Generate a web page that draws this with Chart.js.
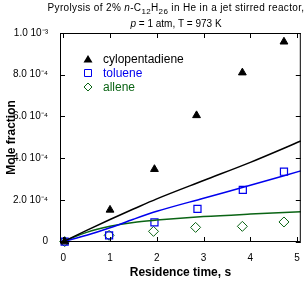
<!DOCTYPE html>
<html>
<head>
<meta charset="utf-8">
<script src="https://cdn.jsdelivr.net/npm/chart.js@4"></script>
<style>
  html, body { margin: 0; padding: 0; background: #fff; }
  #wrap { width: 307px; height: 284px; position: relative; }
</style>
</head>
<body>
<div id="wrap"><canvas id="myChart"></canvas></div>
<script>
'use strict';

// measured points (residence time, s)
const cpdTime = [0.03, 1.0, 1.95, 2.85, 3.83, 4.72];
const cpdFrac = [0, 1.52e-4, 3.47e-4, 6.05e-4, 8.1e-4, 9.58e-4];
const tolTime = [0.03, 0.98, 1.95, 2.87, 3.84, 4.72];
const tolFrac = [0, 0.3e-4, 0.92e-4, 1.57e-4, 2.48e-4, 3.35e-4];
const allTime = [0.03, 0.98, 1.93, 2.83, 3.83, 4.72];
const allFrac = [0, 0.3e-4, 0.49e-4, 0.68e-4, 0.73e-4, 0.94e-4];

// model curves
const modelTime = [0, 0.5, 1, 1.5, 2, 3, 4, 5.08];
const cpdModel = [0, 0.54e-4, 1.06e-4, 1.56e-4, 2.05e-4, 2.93e-4, 3.8e-4, 4.82e-4];
const tolModel = [0, 0.3e-4, 0.66e-4, 1.07e-4, 1.45e-4, 2.08e-4, 2.7e-4, 3.39e-4];
const allModel = [0, 0.44e-4, 0.73e-4, 0.92e-4, 1.03e-4, 1.2e-4, 1.32e-4, 1.43e-4];

const xTicks = [0, 1, 2, 3, 4, 5];
const yTicks = [0, 2e-4, 4e-4, 6e-4, 8e-4, 1e-3];
const yTickLabels = ['0', '2.0 10\u207B\u2074', '4.0 10\u207B\u2074', '6.0 10\u207B\u2074', '8.0 10\u207B\u2074', '1.0 10\u207B\u00B3'];

const BLACK = '#000000', BLUE = '#0000ee', GREEN = '#0a6414';
const FONT = '"Liberation Sans", Arial, sans-serif';

function pts(xs, ys) { return xs.map((x, i) => ({ x: x, y: ys[i] })); }

const frame = {
  id: 'frame',
  afterDraw(chart) {
    const c = chart.ctx, a = chart.chartArea;
    const xs = chart.scales.x, ys = chart.scales.y;
    c.save();
    c.strokeStyle = '#000';
    c.lineWidth = 1;
    c.strokeRect(a.left + 0.5, a.top + 0.5, a.right - a.left - 1, a.bottom - a.top - 1);
    c.beginPath();
    xTicks.forEach(v => {
      const p = Math.round(xs.getPixelForValue(v)) + 0.5;
      c.moveTo(p, a.bottom); c.lineTo(p, a.bottom - 5);
      c.moveTo(p, a.top); c.lineTo(p, a.top + 5);
    });
    yTicks.forEach(v => {
      const p = Math.round(ys.getPixelForValue(v)) + 0.5;
      c.moveTo(a.left, p); c.lineTo(a.left + 5, p);
      c.moveTo(a.right, p); c.lineTo(a.right - 5, p);
    });
    c.stroke();

    // legend
    const rows = [
      { t: 'cylopentadiene', col: BLACK, s: 'tri' },
      { t: 'toluene', col: BLUE, s: 'sq' },
      { t: 'allene', col: GREEN, s: 'dia' }
    ];
    c.font = '12px ' + FONT;
    c.textBaseline = 'middle';
    rows.forEach((r, i) => {
      const y = 59 + i * 14, x = 88;
      c.strokeStyle = r.col; c.fillStyle = r.col; c.lineWidth = 1;
      c.beginPath();
      if (r.s === 'tri') {
        c.moveTo(x, y - 4); c.lineTo(x + 4.5, y + 3.5); c.lineTo(x - 4.5, y + 3.5); c.closePath(); c.fill();
      } else if (r.s === 'sq') {
        c.rect(x - 3.5, y - 3.5, 7, 7); c.stroke();
      } else {
        c.moveTo(x, y - 4); c.lineTo(x + 4, y); c.lineTo(x, y + 4); c.lineTo(x - 4, y); c.closePath(); c.stroke();
      }
      c.fillText(r.t, 103, y + 1);
    });

    // title
    c.fillStyle = '#000';
    c.textBaseline = 'middle';
    const parts1 = [
      ['Pyrolysis of 2% ', 10, 0, ''], ['n', 10, 0, 'italic '], ['-C', 10, 0, ''], ['12', 8, 3, ''],
      ['H', 10, 0, ''], ['26', 8, 3, ''], [' in He in a jet stirred reactor,', 10, 0, '']
    ];
    const parts2 = [['p', 10, 0, 'italic '], [' = 1 atm, T = 973 K', 10, 0, '']];
    function line(parts, cx, y, sp) {
      c.letterSpacing = sp;
      let w = 0;
      parts.forEach(p => { c.font = p[3] + p[1] + 'px ' + FONT; w += c.measureText(p[0]).width; });
      let x = cx - w / 2;
      c.textAlign = 'left';
      parts.forEach(p => {
        c.font = p[3] + p[1] + 'px ' + FONT;
        c.fillText(p[0], x, y + p[2]);
        x += c.measureText(p[0]).width;
      });
      c.letterSpacing = '0px';
    }
    line(parts1, 176, 8.5, '0.35px');
    line(parts2, 176, 24, '0px');
    c.restore();
  }
};

const ctx = document.getElementById('myChart').getContext('2d');
const myChart = new Chart(ctx, {
  type: 'scatter',
  data: {
    datasets: [
      { label: 'cpd model', data: pts(modelTime, cpdModel), showLine: true, borderColor: BLACK, borderWidth: 1.5, pointRadius: 0, cubicInterpolationMode: 'monotone' },
      { label: 'toluene model', data: pts(modelTime, tolModel), showLine: true, borderColor: BLUE, borderWidth: 1.5, pointRadius: 0, cubicInterpolationMode: 'monotone' },
      { label: 'allene model', data: pts(modelTime, allModel), showLine: true, borderColor: GREEN, borderWidth: 1.5, pointRadius: 0, cubicInterpolationMode: 'monotone' },
      { label: 'cylopentadiene', data: pts(cpdTime, cpdFrac), pointStyle: 'triangle', pointRadius: 4.5, backgroundColor: BLACK, borderColor: BLACK, borderWidth: 1 },
      { label: 'toluene', data: pts(tolTime, tolFrac), pointStyle: 'rect', pointRadius: 5, backgroundColor: 'rgba(0,0,0,0)', borderColor: BLUE, borderWidth: 1.2 },
      { label: 'allene', data: pts(allTime, allFrac), pointStyle: 'rectRot', pointRadius: 5, backgroundColor: 'rgba(0,0,0,0)', borderColor: GREEN, borderWidth: 1 }
    ]
  },
  options: {
    responsive: true,
    maintainAspectRatio: false,
    animation: false,
    clip: false,
    layout: { padding: { top: 33, right: 4, left: 0, bottom: 0 } },
    plugins: { legend: { display: false }, tooltip: { enabled: false }, title: { display: false } },
    scales: {
      x: {
        type: 'linear', min: -0.07, max: 5.08,
        afterBuildTicks: s => { s.ticks = xTicks.map(v => ({ value: v })); },
        afterFit: s => { s.height = 42; },
        grid: { display: false },
        border: { display: false },
        ticks: { color: '#000', font: { family: FONT, size: 10 }, padding: 2, maxRotation: 0 },
        title: { display: true, text: 'Residence time, s', color: '#000', font: { family: FONT, size: 12, weight: 'bold' }, padding: { top: 3 } }
      },
      y: {
        type: 'linear', min: -0.000002, max: 0.001,
        afterBuildTicks: s => { s.ticks = yTicks.map(v => ({ value: v })); },
        afterFit: s => { s.width = 60; },
        grid: { display: false },
        border: { display: false },
        ticks: { color: '#000', font: { family: FONT, size: 10 }, padding: 4, callback: v => yTickLabels[yTicks.indexOf(v)] },
        title: { display: true, text: 'Mole fraction', color: '#000', font: { family: FONT, size: 12, weight: 'bold' }, padding: { bottom: 0 } }
      }
    }
  },
  plugins: [frame]
});
</script>
</body>
</html>
